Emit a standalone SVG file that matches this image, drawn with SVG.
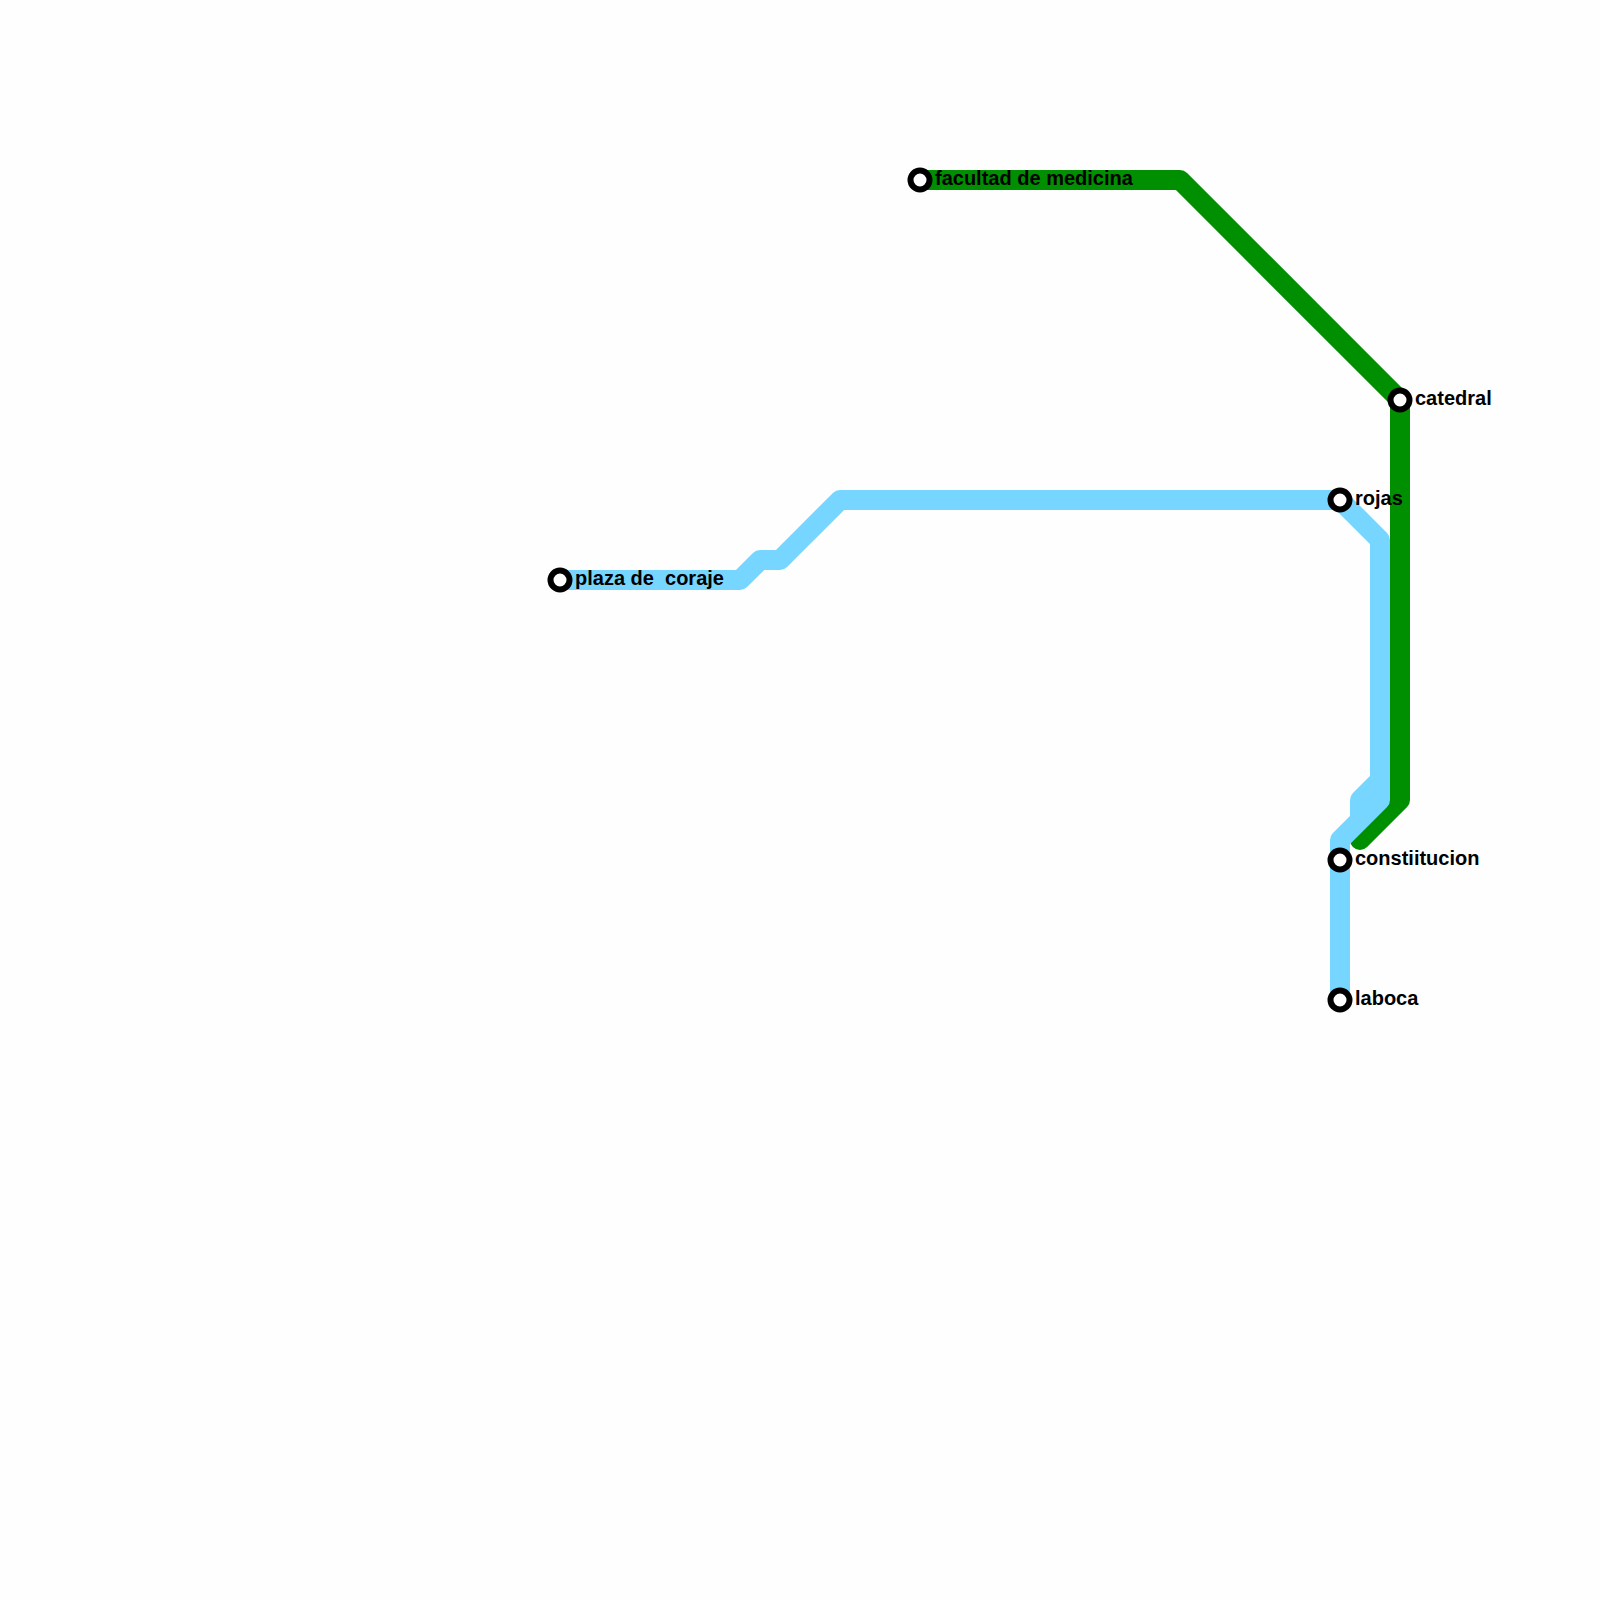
<svg xmlns="http://www.w3.org/2000/svg" width="1600" height="1600" viewBox="0 0 1600 1600">
<style>
.line{fill:none;stroke-width:20;stroke-linecap:round;stroke-linejoin:round}
.blue{stroke:#76d6ff}
.green{stroke:#008f00}
.st{fill:#fff;stroke:#000;stroke-width:6}
text{font-family:"Liberation Sans",Arial,sans-serif;font-weight:700;font-size:20px;fill:#000}
</style>
<rect width="1600" height="1600" fill="#fefefe"/>
<g id="connectors">
<path id="line-green" class="line green" d="M920 180H1180L1400 400V800L1360 840"/>
<path id="line-blue" class="line blue" d="M560 580H740L760 560H780L840 500H1340L1380 540V800L1340 840V1000M1380 780L1360 800V820L1340 840"/>
</g>
<g id="plaza-de-coraje"><circle class="st" cx="560" cy="580" r="9.5"/><text x="575" y="585" xml:space="preserve">plaza de  coraje</text></g>
<g id="facultad-de-medicina"><circle class="st" cx="920" cy="180" r="9.5"/><text x="935" y="185">facultad de medicina</text></g>
<g id="catedral"><circle class="st" cx="1400" cy="400" r="9.5"/><text x="1415" y="405">catedral</text></g>
<g id="rojas"><circle class="st" cx="1340" cy="500" r="9.5"/><text x="1355" y="505">rojas</text></g>
<g id="constiitucion"><circle class="st" cx="1340" cy="860" r="9.5"/><text x="1355" y="865">constiitucion</text></g>
<g id="laboca"><circle class="st" cx="1340" cy="1000" r="9.5"/><text x="1355" y="1005">laboca</text></g>
</svg>
